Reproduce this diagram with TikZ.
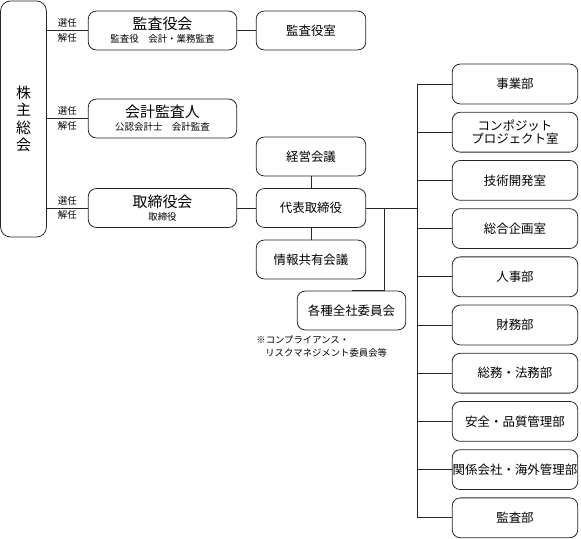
\documentclass[tikz,border=0pt]{standalone}
\usepackage{fontspec}
\setmainfont{Noto Sans CJK JP}
\usepackage{tikz}
\usetikzlibrary{positioning}
\newcommand \ttl {\fontsize{15}{17}\selectfont}
\newcommand \subtxt {\fontsize{9.5}{11}\selectfont}
\newcommand \deptfont {\fontsize{12.5}{14}\selectfont}
\tikzstyle{board}=[rectangle,rounded corners=8,draw=black!85,align=center,inner sep=0mm,minimum width=149,minimum height=39]
\tikzstyle{unit}=[rectangle,rounded corners=8,draw=black!85,align=center,inner sep=0mm,minimum width=110,minimum height=39,font=\deptfont]
\tikzstyle{dept}=[rectangle,rounded corners=8,draw=black!85,align=center,inner sep=0mm,minimum width=126,minimum height=40,font=\deptfont]
\tikzstyle{tag}=[font=\fontsize{9.5}{11}\selectfont,inner sep=2.5pt]
\tikzstyle{link}=[draw=black!85]
\tikzset{every picture/.style={
    line width=0.8
  }
}

\begin{document}
\begin{tikzpicture}[x=1bp,y=-1bp]
          \useasboundingbox (0,0) rectangle (581,539);
          % shareholders
          \node[rectangle,rounded corners=10,draw=black!85,minimum width=46,minimum height=237,inner sep=0mm,align=center,font=\fontsize{15}{17.5}\selectfont] at (23.5,119) (gm) {株\\主\\総\\会};
          \node[board] at (162.5,30.5) (ab) {{\ttl 監査役会}\\[1pt]{\subtxt 監査役\quad 会計・業務監査}};
          \node[board] at (162.5,118.5) (ca) {{\ttl 会計監査人}\\[1pt]{\subtxt 公認会計士\quad 会計監査}};
          \node[board] at (162.5,208) (bd) {{\ttl 取締役会}\\[1pt]{\subtxt 取締役}};
          \foreach \b in {ab,ca,bd}
            \draw[link] (gm.east |- \b.west) -- node[tag,pos=0.5,above] {選任} node[tag,pos=0.5,below] {解任} (\b.west);
          \node[unit] at (311,30.5) (abo) {監査役室};
          \draw[link] (ab) -- (abo);
          % executive
          \node[unit] at (311,156.5) (mm) {経営会議};
          \node[unit] at (311,208) (ceo) {代表取締役};
          \node[unit] at (311,259.5) (im) {情報共有会議};
          \node[unit,minimum width=109] at (351.5,310.5) (cm) {各種全社委員会};
          \node[anchor=north west,align=left,inner sep=0mm,font=\fontsize{9.4}{13}\selectfont] at (256,335) (note) {※コンプライアンス・\\\hspace{0.95em}リスクマネジメント委員会等};
          \draw[link] (bd) -- (ceo);
          \draw[link] (mm) -- (ceo);
          \draw[link] (ceo) -- (im);
          \coordinate (t) at (417,208);
          \draw[link] (ceo) -- (t);
          \draw[link] (cm.north -| 384,0) -- (cm.north);
          \draw[link] (ceo.east -| 384,0) -- (cm.north -| 384,0);
          % departments
          \foreach \n/\txt [count=\i from 0] in {d0/事業部,d1/{コンポジット\\[-1pt]プロジェクト室},d2/技術開発室,d3/総合企画室,d4/人事部,d5/財務部,d6/総務・法務部,d7/安全・品質管理部,d8/関係会社・海外管理部,d9/監査部}
          {
            \node[dept] at (515,84+48.2*\i) (\n) {\txt};
            \draw[link] (t |- \n.west) -- (\n.west);
          }
          \draw[link] (t |- d0.west) -- (t |- d9.west);
        \end{tikzpicture}
\end{document}
